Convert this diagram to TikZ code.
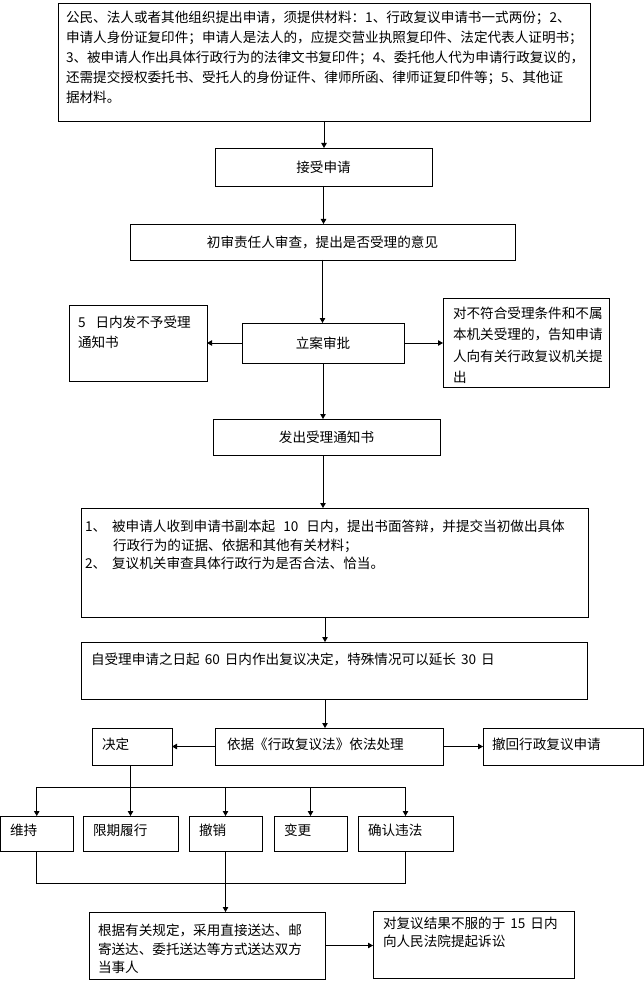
\documentclass[tikz,border=0pt]{standalone}
\usepackage{fontspec}
\setmainfont{Noto Sans CJK SC}
\usetikzlibrary{arrows.meta}
\newcommand\mybox[5]{\node[box, minimum width={#4-#2}, minimum height={#5-#3}] (#1) at (#2,#3) {};}
\newcommand\gp[1][5pt]{\hspace{#1}}
\begin{document}
\begin{tikzpicture}[x=1pt,y=-1pt,
  box/.style={draw, line width=0.8pt, inner sep=0pt, outer sep=0pt, anchor=north west},
  txt/.style={inner sep=0pt, outer sep=0pt, align=left, font=\fontsize{13.6}{20}\selectfont},
  arr/.style={line width=0.8pt, -{Triangle[length=5pt,width=5.5pt]}},
  ln/.style={line width=0.8pt}]
\useasboundingbox (0,0) rectangle (644,981);
% boxes
\mybox{b1}{58}{3}{590}{121}
\mybox{b2}{215}{148}{432}{186}
\mybox{b3}{130}{224}{515}{260}
\mybox{b4}{242}{323}{404}{363}
\mybox{bl}{69}{305}{207}{381}
\mybox{br}{443}{298}{609}{387}
\mybox{b5}{213}{419}{440}{455}
\mybox{b6}{81}{508}{588}{617}
\mybox{b7}{81}{642}{587}{699}
\mybox{b8}{215}{728}{443}{765}
\mybox{bd}{92}{728}{172}{765}
\mybox{bw}{483}{728}{643}{765}
\mybox{r1}{0.5}{816}{73}{851}
\mybox{r2}{83}{816}{178}{851}
\mybox{r3}{189}{816}{262}{851}
\mybox{r4}{274}{816}{347}{851}
\mybox{r5}{358}{816}{453}{851}
\mybox{f1}{89}{912}{325}{979}
\mybox{f2}{373}{911}{574}{978}
\coordinate (ax) at (325,0);
% texts
\node[txt, anchor=north west] (t1) at (66,11) {公民、法人或者其他组织提出申请，须提供材料：1、行政复议申请书一式两份；2、\\申请人身份证复印件；申请人是法人的，应提交营业执照复印件、法定代表人证明书；\\3、被申请人作出具体行政行为的法律文书复印件；4、委托他人代为申请行政复议的，\\还需提交授权委托书、受托人的身份证件、律师所函、律师证复印件等；5、其他证\\据材料。};
\node[txt] (t2) at (b2) {接受申请};
\node[txt] (t3) at (b3) {初审责任人审查，提出是否受理的意见};
\node[txt] (t4) at (b4) {立案审批};
\node[txt, anchor=north west] (tl) at (78,316) {5\gp[10pt]日内发不予受理\\通知书};
\node[txt, anchor=north west, font=\fontsize{13.6}{21.5}\selectfont] (tr) at (453,307) {对不符合受理条件和不属\\本机关受理的，告知申请\\人向有关行政复议机关提\\出};
\node[txt] (t5) at (b5) {发出受理通知书};
\node[txt, anchor=north west, font=\fontsize{13.6}{18.5}\selectfont] (t6) at (85,520) {1、\gp[6pt]被申请人收到申请书副本起\gp[8pt]10\gp[8pt]日内，提出书面答辩，并提交当初做出具体\\\hspace{28pt}行政行为的证据、依据和其他有关材料；\\2、\gp[6pt]复议机关审查具体行政行为是否合法、恰当。};
\node[txt, anchor=west] (t7) at (91,659) {自受理申请之日起\gp 60\gp 日内作出复议决定，特殊情况可以延长\gp 30\gp 日};
\node[txt, anchor=west] (t8) at (227,744) {依据《行政复议法》依法处理};
\node[txt, anchor=west] (td) at (102,744) {决定};
\node[txt, anchor=west] (tw) at (492,744) {撤回行政复议申请};
\node[txt, anchor=west] (s1) at (10,830) {维持};
\node[txt, anchor=west] (s2) at (93,830) {限期履行};
\node[txt, anchor=west] (s3) at (199,830) {撤销};
\node[txt, anchor=west] (s4) at (284,830) {变更};
\node[txt, anchor=west] (s5) at (368,830) {确认违法};
\node[txt, anchor=north west, font=\fontsize{13.6}{18.5}\selectfont] (tf1) at (98,924) {根据有关规定，采用直接送达、邮\\寄送达、委托送达等方式送达双方\\当事人};
\node[txt, anchor=north west, font=\fontsize{13.6}{18}\selectfont] (tf2) at (383,917) {对复议结果不服的于\gp 15\gp 日内\\向人民法院提起诉讼};
% connectors
\draw[arr] (b1.south) -- (b1.south |- b2.north);
\draw[arr] (b2.south) -- (b2.south |- b3.north);
\draw[arr] (b3.south) -- (b3.south |- b4.north);
\draw[arr] (b4.west) -- (b4.west -| bl.east);
\draw[arr] (b4.east) -- (b4.east -| br.west);
\draw[arr] (b4.south) -- (b4.south |- b5.north);
\draw[arr] (b5.south -| b4.south) -- (b6.north -| b4.south);
\draw[arr] (b6.south -| ax) -- (b7.north -| ax);
\draw[arr] (b7.south -| ax) -- (b8.north -| ax);
\draw[arr] (b8.west) -- (bd.east);
\draw[arr] (b8.east) -- (bw.west);
\coordinate (hy) at (0,787);
\coordinate (ly) at (0,883);
\draw[arr] (bd.south -| r2.north) -- (r2.north);
\draw[ln] (r1.north |- hy) -- (r5.north |- hy);
\draw[arr] (r1.north |- hy) -- (r1.north);
\draw[arr] (r3.north |- hy) -- (r3.north);
\draw[arr] (r4.north |- hy) -- (r4.north);
\draw[arr] (r5.north |- hy) -- (r5.north);
\draw[ln] (r1.south) -- (r1.south |- ly) -- (r5.south |- ly) -- (r5.south);
\draw[arr] (r3.south) -- (r3.south |- f1.north);
\draw[arr] (f1.east) -- (f1.east -| f2.west);
\end{tikzpicture}
\end{document}
